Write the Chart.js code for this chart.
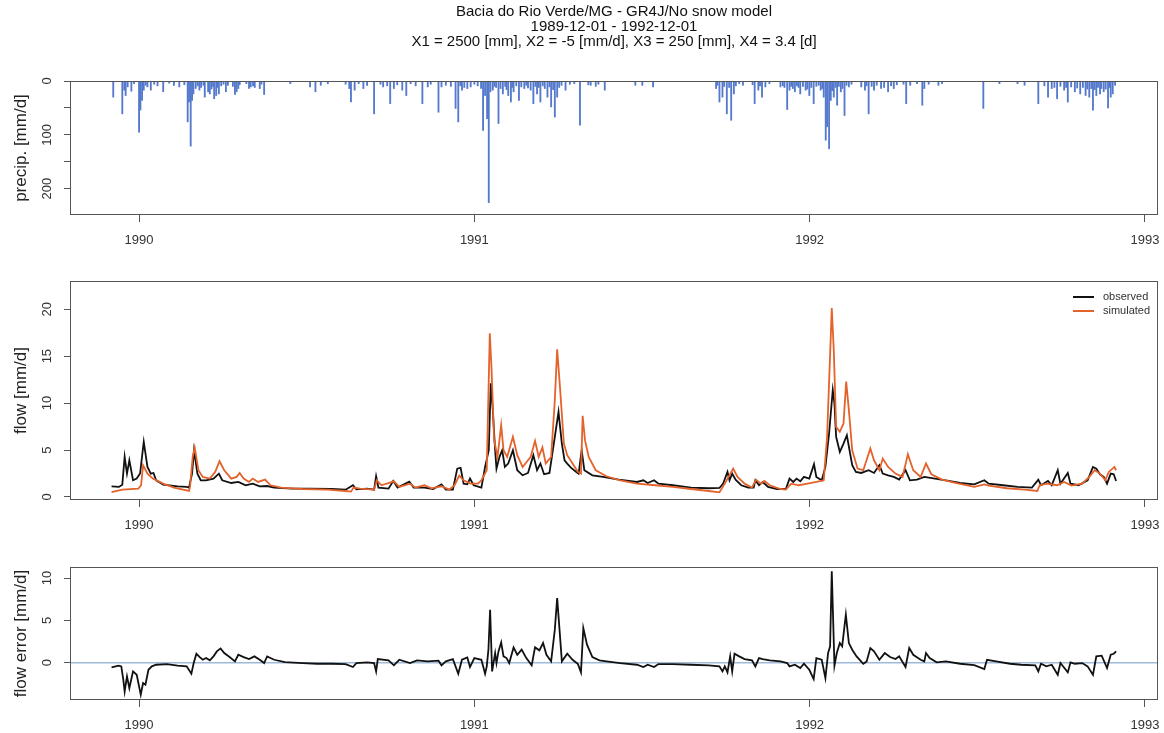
<!DOCTYPE html>
<html>
<head>
<meta charset="utf-8">
<script src="https://cdn.jsdelivr.net/npm/chart.js@4.4.0/dist/chart.umd.min.js"></script>
<style>
  html, body { margin: 0; padding: 0; background: #fff; }
  #wrap { position: relative; width: 1164px; height: 733px; overflow: hidden; }
  canvas { position: absolute; left: 0; }
</style>
</head>
<body>
<div id="wrap">
  <canvas id="precipChart" width="1164" height="255" style="top:0px;width:1164px;height:255px"></canvas>
  <canvas id="flowChart" width="1164" height="285" style="top:255px;width:1164px;height:285px"></canvas>
  <canvas id="errorChart" width="1164" height="193" style="top:540px;width:1164px;height:193px"></canvas>
</div>
<script>
// ---- data (decimal years / mm per day) ----
const titleLines = [
    'Bacia do Rio Verde/MG - GR4J/No snow model',
    '1989-12-01 - 1992-12-01',
    'X1 = 2500 [mm], X2 = -5 [mm/d], X3 = 250 [mm], X4 = 3.4 [d]'
];
const yearTicks = [1990, 1991, 1992, 1993];
const precipTicks = [0, 50, 100, 150, 200];
const precipLabels = [0, 100, 200];
const flowTicks = [0, 5, 10, 15, 20];
const errTicks = [0, 5, 10];

const precipT = [
    1989.923, 1989.950, 1989.956, 1989.960, 1989.966, 1989.977, 1989.985, 1990.000, 1990.004, 1990.009,
    1990.014, 1990.020, 1990.025, 1990.035, 1990.045, 1990.055, 1990.072, 1990.090, 1990.104, 1990.120,
    1990.135, 1990.145, 1990.149, 1990.154, 1990.158, 1990.162, 1990.169, 1990.175, 1990.180, 1990.185,
    1990.192, 1990.196, 1990.206, 1990.211, 1990.216, 1990.220, 1990.224, 1990.230, 1990.234, 1990.238,
    1990.245, 1990.252, 1990.259, 1990.265, 1990.280, 1990.286, 1990.291, 1990.296, 1990.300, 1990.320,
    1990.328, 1990.333, 1990.340, 1990.345, 1990.360, 1990.365, 1990.373, 1990.451, 1990.510, 1990.526,
    1990.542, 1990.563, 1990.616, 1990.627, 1990.632, 1990.643, 1990.655, 1990.669, 1990.680, 1990.701,
    1990.720, 1990.728, 1990.740, 1990.749, 1990.760, 1990.770, 1990.785, 1990.797, 1990.810, 1990.825,
    1990.845, 1990.861, 1990.870, 1990.893, 1990.902, 1990.915, 1990.930, 1990.944, 1990.952, 1990.958,
    1990.963, 1990.970, 1990.979, 1990.989, 1991.000, 1991.010, 1991.020, 1991.026, 1991.032, 1991.038,
    1991.043, 1991.048, 1991.055, 1991.060, 1991.065, 1991.072, 1991.078, 1991.085, 1991.092, 1991.096,
    1991.101, 1991.109, 1991.113, 1991.117, 1991.125, 1991.133, 1991.140, 1991.149, 1991.155, 1991.160,
    1991.168, 1991.176, 1991.182, 1991.187, 1991.192, 1991.197, 1991.204, 1991.210, 1991.218, 1991.224,
    1991.229, 1991.235, 1991.240, 1991.247, 1991.253, 1991.260, 1991.272, 1991.285, 1991.298, 1991.315,
    1991.340, 1991.347, 1991.362, 1991.370, 1991.389, 1991.480, 1991.501, 1991.533, 1991.721, 1991.725,
    1991.731, 1991.740, 1991.745, 1991.753, 1991.760, 1991.766, 1991.774, 1991.780, 1991.790, 1991.801,
    1991.830, 1991.836, 1991.847, 1991.852, 1991.858, 1991.868, 1991.880, 1991.913, 1991.920, 1991.925,
    1991.933, 1991.940, 1991.945, 1991.950, 1991.956, 1991.962, 1991.967, 1991.972, 1991.980, 1991.988,
    1991.993, 1991.999, 1992.005, 1992.012, 1992.020, 1992.027, 1992.033, 1992.038, 1992.042, 1992.048,
    1992.052, 1992.058, 1992.063, 1992.067, 1992.072, 1992.077, 1992.082, 1992.087, 1992.093, 1992.098,
    1992.104, 1992.110, 1992.117, 1992.125, 1992.154, 1992.165, 1992.170, 1992.176, 1992.185, 1992.192,
    1992.200, 1992.213, 1992.222, 1992.234, 1992.243, 1992.251, 1992.260, 1992.280, 1992.288, 1992.300,
    1992.320, 1992.336, 1992.342, 1992.355, 1992.384, 1992.395, 1992.518, 1992.566, 1992.620, 1992.641,
    1992.682, 1992.700, 1992.711, 1992.722, 1992.730, 1992.738, 1992.748, 1992.759, 1992.765, 1992.770,
    1992.780, 1992.791, 1992.798, 1992.807, 1992.815, 1992.823, 1992.828, 1992.834, 1992.840, 1992.845,
    1992.850, 1992.855, 1992.860, 1992.866, 1992.870, 1992.877, 1992.883, 1992.890, 1992.894, 1992.898,
    1992.904, 1992.911
];
const precipP = [
    30, 61, 17, 27, 11, 19, 5, 95, 54, 36,
    17, 8, 11, 17, 6, 9, 20, 4, 8, 11,
    7, 76, 39, 121, 36, 24, 14, 9, 17, 12,
    8, 30, 20, 24, 15, 10, 33, 27, 12, 24,
    9, 6, 20, 8, 10, 25, 20, 14, 7, 5,
    14, 11, 9, 12, 14, 6, 25, 5, 11, 20,
    8, 5, 6, 14, 39, 17, 5, 14, 8, 61,
    6, 11, 9, 42, 14, 7, 17, 27, 5, 9,
    42, 11, 6, 58, 11, 8, 10, 51, 76, 9,
    17, 12, 14, 11, 6, 9, 14, 92, 27, 70,
    226, 20, 17, 10, 12, 79, 14, 24, 10, 16,
    27, 39, 12, 20, 9, 36, 11, 14, 8, 13,
    17, 42, 10, 24, 12, 39, 9, 14, 30, 11,
    48, 16, 67, 30, 12, 8, 17, 6, 5, 82,
    7, 8, 10, 6, 17, 8, 8, 11, 14, 8,
    39, 30, 10, 61, 12, 73, 24, 9, 5, 8,
    7, 42, 17, 9, 30, 11, 5, 11, 9, 12,
    53, 17, 10, 14, 20, 9, 12, 24, 10, 17,
    15, 27, 12, 42, 10, 8, 17, 14, 30, 110,
    85, 126, 36, 18, 30, 12, 45, 10, 20, 14,
    64, 8, 11, 6, 11, 17, 9, 61, 10, 17,
    8, 14, 12, 20, 9, 14, 7, 6, 42, 8,
    5, 45, 14, 6, 8, 5, 51, 5, 5, 8,
    42, 9, 30, 14, 12, 33, 10, 17, 12, 39,
    11, 20, 13, 24, 12, 27, 15, 30, 14, 54,
    16, 27, 12, 24, 14, 20, 15, 50, 12, 30,
    24, 8
];

const obsT = [
    1989.918, 1989.940, 1989.950, 1989.957, 1989.964, 1989.971, 1989.982, 1989.993, 1990.003, 1990.014,
    1990.025, 1990.035, 1990.043, 1990.051, 1990.072, 1990.115, 1990.142, 1990.149, 1990.158, 1990.164,
    1990.174, 1990.184, 1990.200, 1990.222, 1990.238, 1990.248, 1990.275, 1990.296, 1990.318, 1990.339,
    1990.360, 1990.382, 1990.403, 1990.456, 1990.510, 1990.574, 1990.616, 1990.638, 1990.648, 1990.680,
    1990.701, 1990.707, 1990.714, 1990.744, 1990.758, 1990.771, 1990.806, 1990.819, 1990.851, 1990.877,
    1990.902, 1990.915, 1990.936, 1990.949, 1990.959, 1990.968, 1990.979, 1990.987, 1990.998, 1991.021,
    1991.032, 1991.043, 1991.049, 1991.055, 1991.062, 1991.066, 1991.075, 1991.083, 1991.091, 1991.101,
    1991.115, 1991.128, 1991.144, 1991.160, 1991.176, 1991.187, 1991.197, 1991.208, 1991.224, 1991.240,
    1991.251, 1991.261, 1991.269, 1991.277, 1991.288, 1991.304, 1991.311, 1991.320, 1991.328, 1991.352,
    1991.384, 1991.431, 1991.485, 1991.504, 1991.517, 1991.536, 1991.549, 1991.592, 1991.646, 1991.699,
    1991.731, 1991.742, 1991.755, 1991.761, 1991.769, 1991.779, 1991.796, 1991.817, 1991.833, 1991.838,
    1991.849, 1991.860, 1991.876, 1991.903, 1991.929, 1991.940, 1991.951, 1991.961, 1991.972, 1991.983,
    1991.999, 1992.013, 1992.020, 1992.036, 1992.047, 1992.058, 1992.069, 1992.074, 1992.079, 1992.090,
    1992.101, 1992.111, 1992.119, 1992.127, 1992.138, 1992.154, 1992.176, 1992.192, 1992.208, 1992.218,
    1992.234, 1992.251, 1992.267, 1992.286, 1992.299, 1992.320, 1992.342, 1992.374, 1992.406, 1992.449,
    1992.491, 1992.521, 1992.534, 1992.577, 1992.620, 1992.663, 1992.682, 1992.690, 1992.711, 1992.722,
    1992.740, 1992.748, 1992.770, 1992.778, 1992.802, 1992.829, 1992.845, 1992.855, 1992.866, 1992.877,
    1992.887, 1992.898, 1992.907, 1992.914
];
const obsQ = [
    1.14, 1.07, 1.30, 4.27, 2.49, 3.91, 1.78, 1.96, 2.50, 5.87,
    3.20, 2.49, 2.56, 1.78, 1.32, 1.14, 1.07, 1.00, 2.50, 4.98,
    2.49, 1.78, 1.78, 1.96, 2.49, 1.78, 1.49, 1.60, 1.25, 1.42,
    1.14, 1.17, 1.00, 0.89, 0.89, 0.85, 0.78, 1.25, 0.82, 0.89,
    0.78, 2.21, 1.00, 0.89, 1.71, 1.00, 1.64, 1.00, 1.00, 0.85,
    1.35, 0.78, 0.78, 3.02, 3.10, 1.42, 1.35, 1.96, 1.25, 1.00,
    3.20, 4.98, 12.10, 9.25, 4.98, 3.02, 4.27, 4.98, 3.20, 3.56,
    4.98, 2.85, 2.31, 2.56, 4.45, 2.85, 3.56, 2.42, 2.56, 6.41,
    9.07, 5.69, 3.91, 3.56, 3.13, 2.67, 2.49, 4.98, 2.85, 2.31,
    2.14, 1.85, 1.60, 1.78, 1.49, 1.78, 1.42, 1.25, 1.00, 0.93,
    0.96, 1.42, 2.67, 1.78, 2.49, 1.85, 1.25, 1.00, 1.00, 1.78,
    1.25, 1.60, 1.07, 0.85, 0.85, 1.96, 1.60, 1.96, 1.67, 2.14,
    1.96, 3.49, 2.14, 1.78, 3.20, 6.76, 11.39, 9.96, 6.41, 4.80,
    5.69, 6.58, 4.98, 3.38, 2.67, 2.56, 2.85, 2.56, 3.38, 2.49,
    2.31, 2.14, 1.85, 2.85, 1.78, 1.85, 2.14, 1.96, 1.78, 1.49,
    1.35, 1.78, 1.42, 1.25, 1.07, 1.00, 1.85, 1.25, 1.71, 1.25,
    2.85, 1.42, 2.56, 1.42, 1.25, 1.78, 3.20, 3.02, 2.42, 2.14,
    1.42, 2.49, 2.42, 1.71
];

const simT = [
    1989.918, 1989.950, 1989.998, 1990.006, 1990.012, 1990.025, 1990.041, 1990.072, 1990.104, 1990.149,
    1990.152, 1990.160, 1990.166, 1990.177, 1990.190, 1990.211, 1990.227, 1990.240, 1990.254, 1990.275,
    1990.291, 1990.300, 1990.312, 1990.328, 1990.339, 1990.355, 1990.376, 1990.392, 1990.424, 1990.488,
    1990.563, 1990.616, 1990.632, 1990.640, 1990.659, 1990.701, 1990.709, 1990.723, 1990.760, 1990.776,
    1990.808, 1990.824, 1990.851, 1990.872, 1990.902, 1990.925, 1990.941, 1990.955, 1990.968, 1990.989,
    1991.011, 1991.021, 1991.037, 1991.046, 1991.051, 1991.059, 1991.069, 1991.080, 1991.087, 1991.098,
    1991.115, 1991.128, 1991.144, 1991.160, 1991.168, 1991.181, 1991.192, 1991.203, 1991.213, 1991.229,
    1991.240, 1991.247, 1991.256, 1991.267, 1991.277, 1991.293, 1991.309, 1991.318, 1991.323, 1991.330,
    1991.341, 1991.362, 1991.394, 1991.435, 1991.485, 1991.539, 1991.592, 1991.646, 1991.699, 1991.731,
    1991.747, 1991.772, 1991.785, 1991.806, 1991.828, 1991.840, 1991.854, 1991.865, 1991.881, 1991.913,
    1991.929, 1991.945, 1991.967, 1991.994, 1992.020, 1992.042, 1992.052, 1992.063, 1992.066, 1992.072,
    1992.079, 1992.090, 1992.101, 1992.109, 1992.117, 1992.127, 1992.143, 1992.160, 1992.181, 1992.192,
    1992.208, 1992.218, 1992.234, 1992.256, 1992.277, 1992.293, 1992.309, 1992.331, 1992.347, 1992.363,
    1992.395, 1992.438, 1992.491, 1992.521, 1992.534, 1992.588, 1992.641, 1992.679, 1992.686, 1992.706,
    1992.738, 1992.759, 1992.781, 1992.813, 1992.834, 1992.850, 1992.866, 1992.882, 1992.892, 1992.909,
    1992.914
];
const simQ = [
    0.53, 0.78, 0.89, 1.25, 3.38, 2.49, 1.96, 1.42, 1.00, 0.64,
    1.07, 4.27, 5.27, 2.85, 2.14, 1.96, 2.67, 3.81, 2.85, 1.96,
    2.14, 2.56, 1.96, 1.60, 1.96, 1.60, 1.85, 1.25, 1.00, 0.85,
    0.78, 0.64, 0.57, 1.00, 0.89, 0.78, 1.78, 1.25, 1.67, 1.07,
    1.42, 1.00, 1.25, 0.93, 1.14, 0.78, 1.25, 2.28, 1.78, 1.42,
    1.42, 1.78, 2.85, 17.44, 13.88, 6.05, 4.27, 7.65, 4.98, 4.27,
    6.41, 4.45, 3.20, 3.91, 4.27, 5.98, 4.27, 5.27, 3.56, 4.27,
    10.32, 15.73, 11.39, 5.69, 4.45, 3.56, 2.67, 2.49, 8.65, 6.05,
    4.27, 2.85, 2.21, 1.78, 1.42, 1.25, 1.07, 0.85, 0.64, 0.50,
    1.42, 3.02, 2.14, 1.42, 1.00, 1.85, 1.42, 1.71, 1.25, 0.85,
    0.78, 1.42, 1.25, 1.42, 1.60, 1.78, 6.41, 17.08, 20.11, 15.66,
    7.47, 6.94, 7.83, 12.28, 9.25, 4.98, 3.02, 2.85, 5.16, 3.91,
    2.85, 4.09, 3.20, 2.49, 2.14, 4.56, 2.85, 2.14, 3.56, 2.42,
    1.85, 1.49, 1.07, 1.35, 1.21, 0.93, 0.78, 0.64, 1.25, 1.42,
    1.25, 1.60, 1.21, 1.42, 2.14, 2.85, 2.49, 1.78, 2.67, 3.20,
    2.85
];

const errT = [
    1989.918, 1989.939, 1989.947, 1989.953, 1989.957, 1989.964, 1989.971, 1989.982, 1989.993, 1990.000,
    1990.005, 1990.012, 1990.019, 1990.028, 1990.038, 1990.051, 1990.083, 1990.115, 1990.142, 1990.156,
    1990.163, 1990.171, 1990.181, 1990.190, 1990.200, 1990.211, 1990.222, 1990.232, 1990.243, 1990.254,
    1990.270, 1990.286, 1990.296, 1990.312, 1990.328, 1990.344, 1990.360, 1990.373, 1990.382, 1990.403,
    1990.435, 1990.488, 1990.531, 1990.574, 1990.616, 1990.638, 1990.648, 1990.680, 1990.701, 1990.707,
    1990.712, 1990.744, 1990.760, 1990.776, 1990.808, 1990.829, 1990.861, 1990.893, 1990.902, 1990.915,
    1990.936, 1990.952, 1990.963, 1990.979, 1990.987, 1991.000, 1991.021, 1991.032, 1991.037, 1991.042,
    1991.047, 1991.053, 1991.062, 1991.066, 1991.072, 1991.080, 1991.087, 1991.096, 1991.104, 1991.117,
    1991.128, 1991.141, 1991.155, 1991.171, 1991.181, 1991.194, 1991.205, 1991.215, 1991.229, 1991.240,
    1991.247, 1991.254, 1991.261, 1991.277, 1991.293, 1991.309, 1991.318, 1991.325, 1991.336, 1991.352,
    1991.373, 1991.394, 1991.435, 1991.485, 1991.504, 1991.517, 1991.536, 1991.549, 1991.592, 1991.646,
    1991.699, 1991.731, 1991.740, 1991.747, 1991.755, 1991.763, 1991.769, 1991.776, 1991.790, 1991.806,
    1991.828, 1991.838, 1991.849, 1991.860, 1991.881, 1991.913, 1991.933, 1991.940, 1991.956, 1991.972,
    1991.983, 1991.999, 1992.012, 1992.020, 1992.036, 1992.047, 1992.055, 1992.061, 1992.066, 1992.074,
    1992.081, 1992.090, 1992.097, 1992.108, 1992.117, 1992.127, 1992.140, 1992.160, 1992.170, 1992.181,
    1992.192, 1992.208, 1992.224, 1992.240, 1992.256, 1992.267, 1992.286, 1992.297, 1992.309, 1992.331,
    1992.342, 1992.347, 1992.358, 1992.379, 1992.406, 1992.449, 1992.491, 1992.521, 1992.529, 1992.556,
    1992.598, 1992.631, 1992.673, 1992.682, 1992.690, 1992.706, 1992.722, 1992.740, 1992.748, 1992.770,
    1992.778, 1992.791, 1992.813, 1992.829, 1992.845, 1992.855, 1992.871, 1992.887, 1992.898, 1992.907,
    1992.914
];
const errV = [
    -0.55, -0.35, -0.43, -2.00, -3.39, -1.61, -2.99, -1.02, -1.42, -2.80,
    -3.78, -2.40, -2.60, -0.83, -0.43, -0.24, -0.16, -0.35, -0.43, -1.30,
    -0.04, 1.06, 0.67, 0.35, 0.55, 0.28, 0.75, 1.34, 1.69, 1.14,
    0.67, 0.16, 0.94, 0.67, 0.43, 0.75, 0.35, -0.04, 0.75, 0.35,
    0.08, -0.04, -0.12, -0.12, -0.16, -0.51, -0.04, 0.04, -0.04, -1.02,
    0.43, 0.28, -0.31, 0.35, -0.04, 0.28, 0.16, 0.24, -0.31, 0.16,
    0.43, -1.30, 0.35, 0.63, -0.51, 0.55, 0.35, -1.30, -0.43, 1.54,
    6.26, -1.02, 1.14, -0.04, 1.34, 2.40, 0.75, 0.55, -0.04, 1.81,
    0.94, 1.54, 0.55, -0.31, 1.81, 1.46, 2.32, 0.94, 0.16, 3.90,
    7.64, 3.90, 0.16, 1.06, 0.35, -0.16, -1.14, 4.09, 2.13, 0.67,
    0.28, 0.16, -0.04, -0.24, -0.51, -0.24, -0.51, -0.16, -0.16, -0.24,
    -0.31, -0.43, -1.02, -0.43, -1.14, 0.75, -1.02, 1.06, 0.75, 0.43,
    0.28, -0.43, 0.55, 0.43, 0.28, 0.16, -0.04, -0.43, -0.24, -0.63,
    -0.12, -0.83, -1.93, 0.55, 0.35, -1.81, 1.14, 1.93, 10.79, -0.35,
    1.14, 2.32, 1.93, 5.67, 2.32, 1.54, 0.75, -0.12, 0.16, 1.73,
    1.34, 0.35, 1.14, 0.67, 0.43, 0.75, -0.51, 1.73, 0.94, 0.35,
    0.16, 1.14, 0.55, 0.04, 0.16, -0.12, -0.28, -0.75, 0.35, 0.16,
    -0.12, -0.24, -0.31, -1.02, -0.12, -0.43, -0.24, -1.42, -0.04, -1.14,
    0.04, -0.12, -0.04, -0.43, -1.42, 0.75, 0.83, -0.63, 0.94, 1.06,
    1.34
];

// ---- look ----
const FONT = "'Liberation Sans', Arial, sans-serif";
const X_MIN = 1989.797, X_MAX = 1993.036;
const AXIS_COL = '#555555';
const TEXT_COL = '#333333';
Chart.defaults.font.family = FONT;
Chart.defaults.color = TEXT_COL;

function pairs(t, v) {
    return t.map((x, i) => ({x: x, y: v[i]}));
}

// frame around the plot region, like R's box()
const boxPlugin = {
    id: 'plotBox',
    afterDraw(chart) {
        const a = chart.chartArea, ctx = chart.ctx;
        ctx.save();
        ctx.strokeStyle = AXIS_COL;
        ctx.lineWidth = 1;
        ctx.strokeRect(Math.round(a.left) - 0.5, Math.round(a.top) + 0.5,
            Math.round(a.right - a.left) + 1, Math.round(a.bottom - a.top) - 1);
        ctx.restore();
    }
};

// small legend placed inside the top-right corner of the plot
const insideLegend = {
    id: 'insideLegend',
    afterDraw(chart) {
        const o = chart.options.plugins.insideLegend;
        if (!o || !o.show) return;
        const a = chart.chartArea, ctx = chart.ctx;
        ctx.save();
        ctx.font = '11px ' + FONT;
        ctx.textBaseline = 'middle';
        ctx.fillStyle = TEXT_COL;
        o.items.forEach((idx, i) => {
            const ds = chart.data.datasets[idx];
            const y = a.top + o.top + i * o.step;
            ctx.strokeStyle = ds.borderColor;
            ctx.lineWidth = 2;
            ctx.beginPath();
            ctx.moveTo(a.right - o.lineFrom, y);
            ctx.lineTo(a.right - o.lineTo, y);
            ctx.stroke();
            ctx.fillText(ds.label, a.right - o.textAt, y);
        });
        ctx.restore();
    }
};

function xAxis(height) {
    return {
        type: 'linear',
        min: X_MIN,
        max: X_MAX,
        offset: false,
        afterBuildTicks: s => { s.ticks = yearTicks.map(v => ({value: v})); },
        afterFit: s => { s.height = height; s.paddingLeft = 0; s.paddingRight = 0; },
        grid: {drawOnChartArea: false, drawTicks: true, tickLength: 7, color: AXIS_COL, offset: false},
        border: {display: false},
        ticks: {autoSkip: false, maxRotation: 0, padding: 11, color: TEXT_COL,
                font: {size: 13}, callback: v => String(v)}
    };
}

function yAxis(title, min, max, tickVals, labelVals, pad, reverse) {
    return {
        type: 'linear',
        min: min,
        max: max,
        reverse: reverse,
        afterBuildTicks: s => { s.ticks = tickVals.map(v => ({value: v})); },
        afterFit: s => { s.width = 71; },
        grid: {drawOnChartArea: false, drawTicks: true, tickLength: 7, color: AXIS_COL},
        border: {display: false},
        ticks: {autoSkip: false, minRotation: 90, maxRotation: 90, crossAlign: 'center',
                padding: pad, color: TEXT_COL, font: {size: 13},
                callback: v => labelVals.includes(v) ? String(v) : ''},
        title: {display: true, text: title, color: '#222', font: {size: 17},
                padding: {top: 11, bottom: 0}}
    };
}

const baseOptions = {
    responsive: false,
    animation: false,
    devicePixelRatio: 1,
    elements: {point: {radius: 0}, line: {tension: 0}}
};

// ---- precipitation (bars hanging from the top) ----
new Chart(document.getElementById('precipChart'), {
    type: 'bar',
    data: {
        datasets: [{
            label: 'precip',
            data: pairs(precipT, precipP),
            backgroundColor: '#5479cd',
            barThickness: 1.2,
            grouped: false
        }]
    },
    options: Object.assign({}, baseOptions, {
        layout: {padding: {left: 0, right: 7, top: 0, bottom: 0}},
        plugins: {
            legend: {display: false},
            tooltip: {enabled: false},
            title: {display: true, text: titleLines, fullSize: false, color: '#111',
                    font: {size: 15, weight: 'normal', lineHeight: 1},
                    padding: {top: 4.5, bottom: 31.5}}
        },
        scales: {
            x: xAxis(40),
            y: yAxis('precip. [mm/d]', 0, 249, precipTicks, precipLabels, 6, true)
        }
    }),
    plugins: [boxPlugin]
});

// ---- observed vs simulated flow ----
new Chart(document.getElementById('flowChart'), {
    type: 'line',
    data: {
        datasets: [
            {label: 'observed', data: pairs(obsT, obsQ), borderColor: '#111111', borderWidth: 1.8, order: 1},
            {label: 'simulated', data: pairs(simT, simQ), borderColor: '#e4622b', borderWidth: 1.8, order: 0}
        ]
    },
    options: Object.assign({}, baseOptions, {
        layout: {padding: {left: 0, right: 7, top: 26, bottom: 0}},
        plugins: {
            legend: {display: false},
            tooltip: {enabled: false},
            insideLegend: {show: true, items: [0, 1], top: 16, step: 14, lineFrom: 84, lineTo: 63, textAt: 54}
        },
        scales: {
            x: xAxis(40),
            y: yAxis('flow [mm/d]', -0.32, 23.0, flowTicks, flowTicks, 9.8, false)
        }
    }),
    plugins: [boxPlugin, insideLegend]
});

// ---- flow error ----
new Chart(document.getElementById('errorChart'), {
    type: 'line',
    data: {
        datasets: [
            {label: 'error', data: pairs(errT, errV), borderColor: '#111111', borderWidth: 1.8, order: 0},
            {label: 'zero', data: [{x: X_MIN, y: 0}, {x: X_MAX, y: 0}], borderColor: '#9fbad8', borderWidth: 1.5, order: 1}
        ]
    },
    options: Object.assign({}, baseOptions, {
        layout: {padding: {left: 0, right: 7, top: 27, bottom: 0}},
        plugins: {legend: {display: false}, tooltip: {enabled: false}},
        scales: {
            x: xAxis(33),
            y: yAxis('flow error [mm/d]', -4.4, 11.3, errTicks, errTicks, 9.8, false)
        }
    }),
    plugins: [boxPlugin]
});
</script>
</body>
</html>
